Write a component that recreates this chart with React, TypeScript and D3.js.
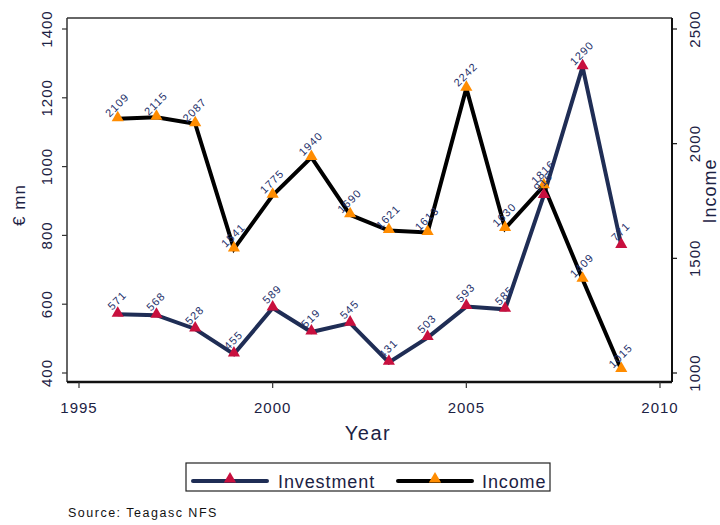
import React, { useEffect, useRef } from 'react';
import * as d3 from 'd3';

const years = [1996, 1997, 1998, 1999, 2000, 2001, 2002, 2003, 2004, 2005, 2006, 2007, 2008, 2009];
const investment = [571, 568, 528, 455, 589, 519, 545, 431, 503, 593, 585, 916, 1290, 771];
const income = [2109, 2115, 2087, 1541, 1775, 1940, 1690, 1621, 1613, 2242, 1630, 1816, 1409, 1015];
const xTicks = [1995, 2000, 2005, 2010];
const leftTicks = [400, 600, 800, 1000, 1200, 1400];
const rightTicks = [1000, 1500, 2000, 2500];

const FONT = "'Liberation Sans', Arial, sans-serif";
const TEXT = '#1c2244';

export default function App() {
  const svgRef = useRef<SVGSVGElement>(null);

  useEffect(() => {
    if (!svgRef.current) return;
    const svg = d3.select(svgRef.current);
    svg.selectAll('*').remove();

    const frame = { left: 67, right: 672, top: 18, bottom: 382 };
    const x = d3.scaleLinear().domain([1995, 2010]).range([79, 660]);
    const yL = d3.scaleLinear().domain([400, 1400]).range([373, 29]);
    const yR = d3.scaleLinear().domain([1000, 2500]).range([373, 29]);

    svg.append('rect').attr('width', 720).attr('height', 525).attr('fill', 'white');

    // Frame
    const g = svg.append('g');
    g.append('line').attr('x1', frame.left).attr('x2', frame.right).attr('y1', frame.top).attr('y2', frame.top)
      .attr('stroke', '#333').attr('stroke-width', 1.5);
    g.append('line').attr('x1', frame.left).attr('x2', frame.left).attr('y1', frame.top).attr('y2', frame.bottom)
      .attr('stroke', '#333').attr('stroke-width', 1.5);
    g.append('line').attr('x1', frame.right).attr('x2', frame.right).attr('y1', frame.top).attr('y2', frame.bottom)
      .attr('stroke', '#111').attr('stroke-width', 2);
    g.append('line').attr('x1', frame.left).attr('x2', frame.right).attr('y1', frame.bottom).attr('y2', frame.bottom)
      .attr('stroke', '#111').attr('stroke-width', 2.5);

    // Left axis
    leftTicks.forEach(t => {
      g.append('line').attr('x1', frame.left - 5).attr('x2', frame.left).attr('y1', yL(t)).attr('y2', yL(t))
        .attr('stroke', '#333').attr('stroke-width', 1.2);
      g.append('text').attr('transform', `translate(52,${yL(t)}) rotate(-90)`)
        .attr('text-anchor', 'middle').attr('font-family', FONT).attr('font-size', 15)
        .attr('letter-spacing', 1).attr('fill', TEXT)
        .text(String(t));
    });
    g.append('text').attr('transform', `translate(25,205) rotate(-90)`)
      .attr('text-anchor', 'middle').attr('font-family', FONT).attr('font-size', 17)
      .attr('letter-spacing', 1).attr('fill', TEXT)
      .text('€ mn');

    // Right axis
    rightTicks.forEach(t => {
      g.append('line').attr('x1', frame.right).attr('x2', frame.right + 5).attr('y1', yR(t)).attr('y2', yR(t))
        .attr('stroke', '#111').attr('stroke-width', 1.2);
      g.append('text').attr('transform', `translate(700,${yR(t)}) rotate(-90)`)
        .attr('text-anchor', 'middle').attr('font-family', FONT).attr('font-size', 15)
        .attr('letter-spacing', 1).attr('fill', TEXT)
        .text(String(t));
    });
    g.append('text').attr('transform', `translate(716,191) rotate(-90)`)
      .attr('text-anchor', 'middle').attr('font-family', FONT).attr('font-size', 18)
      .attr('letter-spacing', 1).attr('fill', TEXT)
      .text('Income');

    // X axis
    xTicks.forEach(t => {
      g.append('line').attr('x1', x(t)).attr('x2', x(t)).attr('y1', frame.bottom).attr('y2', frame.bottom + 6)
        .attr('stroke', '#333').attr('stroke-width', 1.2);
      g.append('text').attr('x', x(t)).attr('y', 413)
        .attr('text-anchor', 'middle').attr('font-family', FONT).attr('font-size', 15)
        .attr('letter-spacing', 1).attr('fill', TEXT)
        .text(String(t));
    });
    g.append('text').attr('x', 368).attr('y', 440)
      .attr('text-anchor', 'middle').attr('font-family', FONT).attr('font-size', 20)
      .attr('letter-spacing', 1.5).attr('fill', TEXT)
      .text('Year');

    const tri = d3.symbol().type(d3.symbolTriangle).size(64);

    const series = [
      { values: investment, y: yL, line: '#1f2d55', marker: '#c8103e' },
      { values: income, y: yR, line: '#000000', marker: '#ff8c00' },
    ];

    series.forEach(s => {
      const line = d3.line<number>().x((_, i) => x(years[i])).y(v => s.y(v));
      g.append('path').attr('d', line(s.values) || '').attr('fill', 'none')
        .attr('stroke', s.line).attr('stroke-width', 4).attr('stroke-linejoin', 'miter');
    });

    series.forEach(s => {
      s.values.forEach((v, i) => {
        g.append('path').attr('d', tri() || '')
          .attr('transform', `translate(${x(years[i])},${s.y(v) - 1})`)
          .attr('fill', s.marker);
      });
    });

    series.forEach(s => {
      s.values.forEach((v, i) => {
        g.append('text')
          .attr('transform', `translate(${x(years[i]) + 2},${s.y(v) - 11}) rotate(-45)`)
          .attr('text-anchor', 'middle').attr('font-family', FONT).attr('font-size', 11)
          .attr('letter-spacing', 1).attr('fill', '#24306a')
          .text(String(v));
      });
    });

    // Legend
    const lg = svg.append('g');
    lg.append('rect').attr('x', 186).attr('y', 463).attr('width', 364).attr('height', 28)
      .attr('fill', 'white').attr('stroke', '#222').attr('stroke-width', 1.2);
    const items = [
      { name: 'Investment', x0: 193, line: '#1f2d55', marker: '#c8103e', tx: 278 },
      { name: 'Income', x0: 398, line: '#000000', marker: '#ff8c00', tx: 482 },
    ];
    items.forEach(it => {
      lg.append('line').attr('x1', it.x0).attr('x2', it.x0 + 74).attr('y1', 481).attr('y2', 481)
        .attr('stroke', it.line).attr('stroke-width', 4).attr('stroke-linecap', 'round');
      lg.append('path').attr('d', tri() || '').attr('transform', `translate(${it.x0 + 37},479)`)
        .attr('fill', it.marker);
      lg.append('text').attr('x', it.tx).attr('y', 488).attr('font-family', FONT).attr('font-size', 18)
        .attr('letter-spacing', 0.9).attr('fill', TEXT).text(it.name);
    });

    svg.append('text').attr('x', 68).attr('y', 517).attr('font-family', FONT).attr('font-size', 12.5)
      .attr('letter-spacing', 1.5).attr('fill', '#111').text('Source: Teagasc NFS');
  }, []);

  return (
    <svg ref={svgRef} width={720} height={525}
      style={{ position: 'absolute', left: 0, top: 0, display: 'block' }} />
  );
}
